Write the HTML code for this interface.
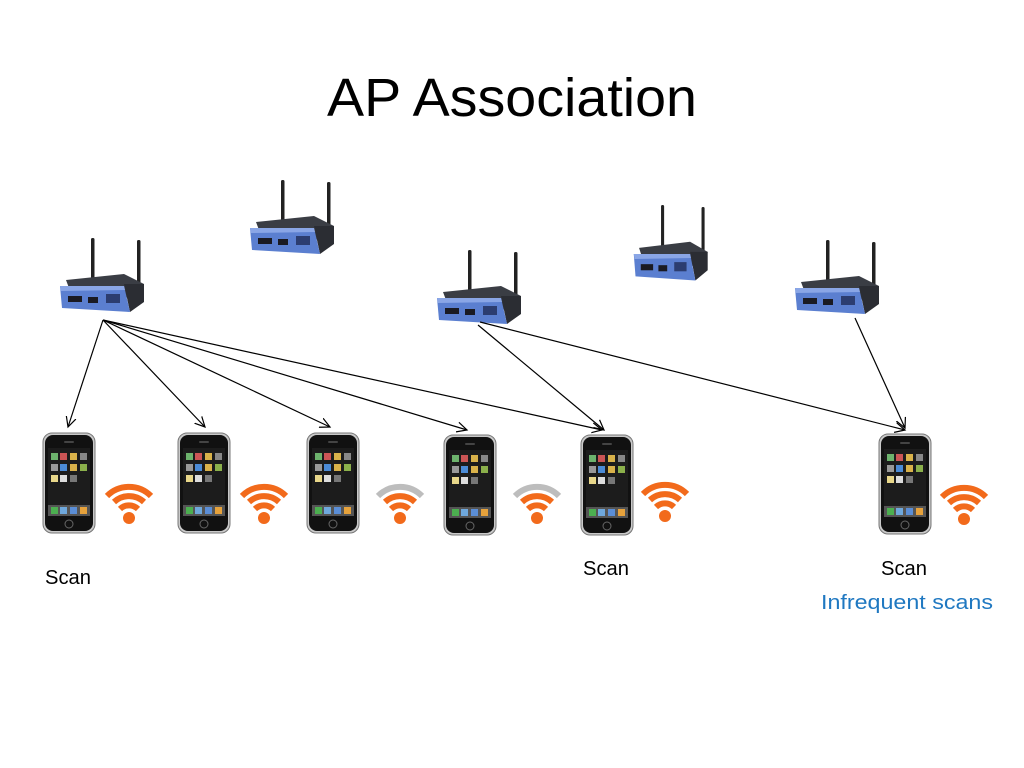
<!DOCTYPE html>
<html><head><meta charset="utf-8"><style>
html,body{margin:0;padding:0;background:#fff;}
svg{display:block;}
text{font-family:"Liberation Sans","DejaVu Sans",sans-serif;}
</style></head><body>
<svg width="1024" height="768" viewBox="0 0 1024 768" xmlns="http://www.w3.org/2000/svg">
<defs>
<marker id="ah" markerWidth="12" markerHeight="12" refX="10" refY="6" orient="auto" markerUnits="userSpaceOnUse">
<path d="M0,1 L10,6 L0,11" fill="none" stroke="#000" stroke-width="1.2"/>
</marker>
<g id="router">
<rect x="33" y="0" width="3.5" height="46" rx="1.5" fill="#222"/>
<rect x="79" y="2" width="3.5" height="44" rx="1.5" fill="#222"/>
<polygon points="8,42 66,36 86,46 84,60 14,58" fill="#3a3d44"/>
<polygon points="66,46 86,46 86,64 72,74" fill="#2b2d33"/>
<polygon points="2,48 66,48 72,74 4,70" fill="#5b7fd0"/>
<polygon points="2,48 66,48 67,52 3,53" fill="#8aa6e6"/>
<rect x="10" y="58" width="14" height="6" fill="#1a1a22"/>
<rect x="30" y="59" width="10" height="6" fill="#1a1a22"/>
<rect x="48" y="56" width="14" height="9" fill="#2c3d70"/>
</g>
<g id="phone">
<rect x="0" y="0" width="52" height="100" rx="9" fill="#c9c9c9" stroke="#777" stroke-width="1"/>
<rect x="2" y="2" width="48" height="96" rx="8" fill="#111"/>
<rect x="5" y="15" width="42" height="68" fill="#1c1c1c"/>
<rect x="8" y="20" width="7" height="7" fill="#6db36d"/>
<rect x="17" y="20" width="7" height="7" fill="#c55"/>
<rect x="27" y="20" width="7" height="7" fill="#d9b24a"/>
<rect x="37" y="20" width="7" height="7" fill="#888"/>
<rect x="8" y="31" width="7" height="7" fill="#999"/>
<rect x="17" y="31" width="7" height="7" fill="#4b8bd6"/>
<rect x="27" y="31" width="7" height="7" fill="#d9b24a"/>
<rect x="37" y="31" width="7" height="7" fill="#8bb04b"/>
<rect x="8" y="42" width="7" height="7" fill="#e8d78a"/>
<rect x="17" y="42" width="7" height="7" fill="#ddd"/>
<rect x="27" y="42" width="7" height="7" fill="#777"/>
<rect x="5" y="72" width="42" height="11" fill="#555"/>
<rect x="8" y="74" width="7" height="7" fill="#4caf50"/>
<rect x="17" y="74" width="7" height="7" fill="#6fa8dc"/>
<rect x="27" y="74" width="7" height="7" fill="#5b8ed6"/>
<rect x="37" y="74" width="7" height="7" fill="#e6a23c"/>
<circle cx="26" cy="91" r="4" fill="none" stroke="#666" stroke-width="1"/>
<rect x="21" y="8" width="10" height="2" rx="1" fill="#444"/>
</g>
<g id="wifiO">
<circle cx="0" cy="0" r="6" fill="#f26a1b"/>
<path d="M-9,-9 A13,13 0 0 1 9,-9" fill="none" stroke="#f26a1b" stroke-width="6"/>
<path d="M-15,-16 A22,22 0 0 1 15,-16" fill="none" stroke="#f26a1b" stroke-width="6"/>
<path d="M-22,-22 A31,31 0 0 1 22,-22" fill="none" stroke="#f26a1b" stroke-width="6"/>
</g>
<g id="wifiG">
<circle cx="0" cy="0" r="6" fill="#f26a1b"/>
<path d="M-9,-9 A13,13 0 0 1 9,-9" fill="none" stroke="#f26a1b" stroke-width="6"/>
<path d="M-15,-16 A22,22 0 0 1 15,-16" fill="none" stroke="#f26a1b" stroke-width="6"/>
<path d="M-22,-22 A31,31 0 0 1 22,-22" fill="none" stroke="#bdbdbd" stroke-width="6"/>
</g>
</defs>

<text x="327" y="116" font-size="54" textLength="370" lengthAdjust="spacingAndGlyphs" fill="#000">AP Association</text>

<use href="#router" x="58" y="238"/>
<use href="#router" x="248" y="180"/>
<use href="#router" x="435" y="250"/>
<use href="#router" transform="translate(632,205) scale(0.88,1.02)"/>
<use href="#router" x="793" y="240"/>

<use href="#phone" x="43" y="433"/>
<use href="#phone" x="178" y="433"/>
<use href="#phone" x="307" y="433"/>
<use href="#phone" x="444" y="435"/>
<use href="#phone" x="581" y="435"/>
<use href="#phone" x="879" y="434"/>

<use href="#wifiO" x="129" y="518"/>
<use href="#wifiO" x="264" y="518"/>
<use href="#wifiG" x="400" y="518"/>
<use href="#wifiG" x="537" y="518"/>
<use href="#wifiO" x="665" y="516"/>
<use href="#wifiO" x="964" y="519"/>

<g stroke="#000" stroke-width="1.2" fill="none" marker-end="url(#ah)">
<line x1="103" y1="320" x2="68" y2="427"/>
<line x1="103" y1="320" x2="205" y2="427"/>
<line x1="103" y1="320" x2="330" y2="427"/>
<line x1="103" y1="320" x2="467" y2="430"/>
<line x1="103" y1="320" x2="602" y2="430"/>
<line x1="478" y1="325" x2="604" y2="430"/>
<line x1="480" y1="322" x2="905" y2="430"/>
<line x1="855" y1="318" x2="905" y2="428"/>
</g>

<text x="45" y="584" font-size="20" textLength="46" lengthAdjust="spacingAndGlyphs" fill="#000">Scan</text>
<text x="583" y="575" font-size="20" textLength="46" lengthAdjust="spacingAndGlyphs" fill="#000">Scan</text>
<text x="881" y="575" font-size="20" textLength="46" lengthAdjust="spacingAndGlyphs" fill="#000">Scan</text>
<text x="821" y="609" font-size="20" textLength="172" lengthAdjust="spacingAndGlyphs" fill="#1f78c1">Infrequent scans</text>
</svg>
</body></html>
